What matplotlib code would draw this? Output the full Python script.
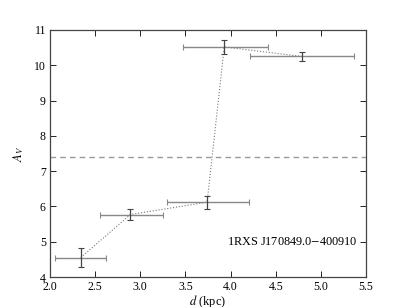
import numpy as np
import matplotlib
matplotlib.use('Agg')
import matplotlib.pyplot as plt

plt.rcParams['font.family'] = 'serif'
plt.rcParams['font.serif'] = ['Liberation Serif', 'DejaVu Serif']
plt.rcParams['mathtext.fontset'] = 'stix'
plt.rcParams['xtick.direction'] = 'in'
plt.rcParams['ytick.direction'] = 'in'
plt.rcParams['xtick.top'] = True
plt.rcParams['ytick.right'] = True

dist = [2.34, 2.89, 3.74, 3.93, 4.79]
dist_lo = [2.06, 2.55, 3.30, 3.47, 4.22]
dist_hi = [2.62, 3.25, 4.20, 4.42, 5.37]
av = [4.55, 5.77, 6.12, 10.52, 10.25]
av_err = [0.28, 0.16, 0.18, 0.19, 0.12]
av_ref = 7.4
label = '1RXS J170849.0$-$400910'

d = np.array(dist)
xerr = [d - np.array(dist_lo), np.array(dist_hi) - d]

fig = plt.figure(figsize=(4.07, 3.07), dpi=100)
ax = fig.add_axes([50/407, 30/307, 316/407, 247/307])

ax.plot(dist, av, ':', color='#777777', lw=0.8)
ax.errorbar(dist, av, xerr=xerr, fmt='none', ecolor='#888888', elinewidth=1.0, capsize=2.5, capthick=0.8)
ax.errorbar(dist, av, yerr=av_err, fmt='none', ecolor='#444444', elinewidth=0.9, capsize=2.5, capthick=0.8)
ax.axhline(av_ref, ls='--', color='#999999', lw=1.0, dashes=(4, 3))

ax.text(5.41, 5.0, label, ha='right', va='center', fontsize=8.8)

ax.set_xlim(2.0, 5.5)
ax.set_ylim(4, 11)
ax.set_xticks(np.arange(2.0, 5.51, 0.5))
ax.set_yticks(range(4, 12))
ax.tick_params(labelsize=8.5, length=4, width=0.6, pad=3)
for s in ax.spines.values():
    s.set_linewidth(0.9)
    s.set_color('#444444')
ax.set_xlabel('$d$ (kpc)', fontsize=9, labelpad=0)
ax.set_ylabel('$A_V$', fontsize=9, labelpad=6)

plt.savefig('out.png', dpi=100)
